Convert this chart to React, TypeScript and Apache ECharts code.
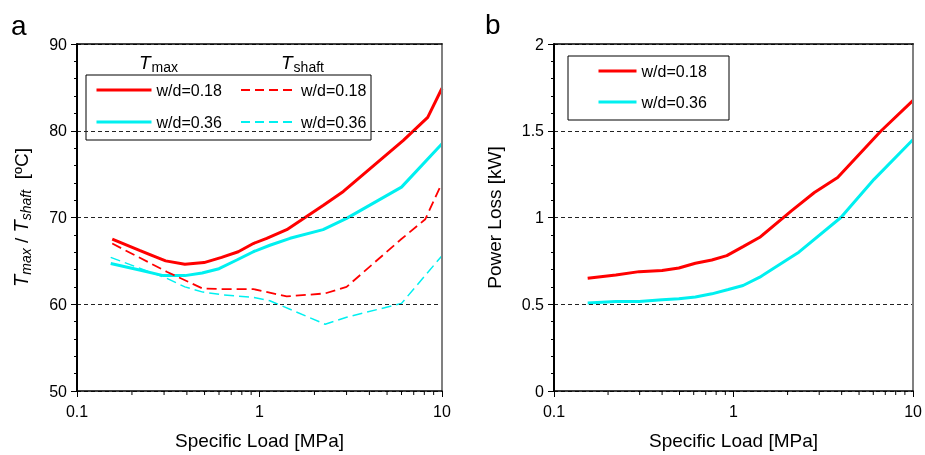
import React, { useEffect, useRef } from "react";
import * as echarts from "echarts";

// ---- data ----
const tmax018X = [0.156, 0.22, 0.306, 0.39, 0.497, 0.62, 0.765, 0.925, 1.095, 1.41, 2.24, 2.88, 6.14, 8.35, 10];
const tmax018Y = [67.5, 66.2, 65.0, 64.6, 64.8, 65.4, 66.05, 67.0, 67.6, 68.6, 71.4, 73.0, 78.9, 81.55, 84.9];
const tmax036X = [0.153, 0.22, 0.297, 0.39, 0.485, 0.6, 0.751, 0.925, 1.14, 1.47, 2.23, 3.0, 6.0, 10];
const tmax036Y = [64.7, 63.95, 63.3, 63.3, 63.6, 64.1, 65.1, 66.05, 66.8, 67.6, 68.6, 69.9, 73.5, 78.5];
const tshaft018X = [0.156, 0.31, 0.49, 0.62, 0.925, 1.41, 2.29, 3.0, 5.9, 8.1, 10];
const tshaft018Y = [67.0, 63.75, 61.8, 61.75, 61.75, 60.9, 61.25, 62.0, 67.4, 69.8, 74.0];
const tshaft036X = [0.153, 0.31, 0.39, 0.49, 0.62, 0.925, 1.14, 2.29, 3.0, 6.0, 10];
const tshaft036Y = [65.4, 63.0, 62.0, 61.4, 61.1, 60.8, 60.4, 57.7, 58.5, 60.1, 65.6];
const pl018X = [0.154, 0.221, 0.298, 0.4, 0.496, 0.613, 0.757, 0.917, 1.13, 1.4, 2.1, 2.82, 3.8, 6.6, 10];
const pl018Y = [0.65, 0.669, 0.688, 0.694, 0.709, 0.736, 0.755, 0.78, 0.832, 0.886, 1.038, 1.144, 1.23, 1.497, 1.675];
const pl036X = [0.154, 0.221, 0.298, 0.4, 0.496, 0.613, 0.757, 0.935, 1.13, 1.4, 2.31, 3.96, 6.06, 10];
const pl036Y = [0.507, 0.516, 0.516, 0.526, 0.532, 0.542, 0.56, 0.585, 0.608, 0.656, 0.8, 1.0, 1.22, 1.45];
const minorXTicks = [0.2, 0.3, 0.4, 0.5, 0.6, 0.7, 0.8, 0.9, 2, 3, 4, 5, 6, 7, 8, 9];
const legendLabels = ["w/d=0.18", "w/d=0.36"];

const RED = "#ff0000";
const CYAN = "#00f0f0";
const FONT = "Liberation Sans, Arial, sans-serif";

const zip = (xs: number[], ys: number[]) => xs.map((x, i) => [x, ys[i]]);

export default function App() {
  const ref = useRef<HTMLDivElement>(null);
  useEffect(() => {
    if (!ref.current) return;
    const chart = echarts.init(ref.current, undefined, { renderer: "svg" });

    const xBottom = (gridIndex: number) => ({
      type: "log",
      logBase: 10,
      gridIndex,
      min: 0.1,
      max: 10,
      position: "bottom",
      z: 4,
      name: "Specific Load [MPa]",
      nameLocation: "middle",
      nameGap: 40,
      nameTextStyle: { fontSize: 19, color: "#000", fontFamily: FONT },
      axisLine: { onZero: false, lineStyle: { color: "#000", width: 1.5 } },
      axisTick: { show: true, length: 6, inside: false, lineStyle: { color: "#000" } },
      axisLabel: {
        fontSize: 16,
        color: "#000",
        fontFamily: FONT,
        margin: 12,
        formatter: (v: number) => (v < 1 ? String(Number(v.toFixed(1))) : String(Math.round(v))),
      },
      splitLine: { show: false },
    });
    const xTop = (gridIndex: number) => ({
      type: "value",
      gridIndex,
      position: "top",
      z: 4,
      min: 0,
      max: 1,
      axisLine: { show: true, onZero: false, lineStyle: { color: "#000", width: 1.5 } },
      axisTick: { show: false },
      axisLabel: { show: false },
      splitLine: { show: false },
    });
    const yRight = (gridIndex: number) => ({
      type: "value",
      gridIndex,
      position: "right",
      z: 4,
      min: 0,
      max: 1,
      axisLine: { show: true, onZero: false, lineStyle: { color: "#808080", width: 2 } },
      axisTick: { show: false },
      axisLabel: { show: false },
      splitLine: { show: false },
    });
    const yLeftCommon = {
      type: "value",
      nameLocation: "middle",
      nameRotate: 90,
      z: 4,
      axisLine: { show: true, onZero: false, lineStyle: { color: "#000", width: 2 } },
      axisTick: { show: true, length: 6, lineStyle: { color: "#000" } },
      minorTick: { show: true, splitNumber: 5, length: 3, lineStyle: { color: "#000" } },
      axisLabel: { fontSize: 16, color: "#000", fontFamily: FONT, margin: 10 },
      splitLine: { show: true, lineStyle: { color: "#222", type: [4, 3], width: 1 } },
    };

    const minorTickSeries = (xAxisIndex: number, yAxisIndex: number, yMin: number) => ({
      type: "custom",
      xAxisIndex,
      yAxisIndex,
      silent: true,
      z: 5,
      data: minorXTicks.map((v) => [v, yMin]),
      renderItem: (params: any, api: any) => {
        const p = api.coord([api.value(0), api.value(1)]);
        return {
          type: "line",
          shape: { x1: p[0], y1: p[1], x2: p[0], y2: p[1] + 4 },
          style: { stroke: "#000", lineWidth: 1 },
        };
      },
    });

    const lineSeries = (name: string, data: number[][], color: string, width: number, dashed: boolean, xi: number, yi: number) => ({
      type: "line",
      name,
      data,
      xAxisIndex: xi,
      yAxisIndex: yi,
      symbol: "none",
      showSymbol: false,
      z: 3,
      lineStyle: { color, width, type: dashed ? [10, 5] : "solid" },
      itemStyle: { color },
    });

    const legendBase = {
      orient: "vertical",
      padding: 0,
      itemHeight: 14,
      itemStyle: { opacity: 0 },
      textStyle: { fontSize: 16, color: "#000", fontFamily: FONT },
      formatter: (n: string) => n.split(" ")[1],
      selectedMode: false,
      z: 10,
    };

    const option: any = {
      animation: false,
      textStyle: { fontFamily: FONT },
      grid: [
        { left: 77, top: 44, width: 365, height: 347 },
        { left: 554, top: 44, width: 362, height: 348 },
      ],
      xAxis: [xBottom(0), xTop(0), xBottom(1), xTop(1)],
      yAxis: [
        {
          ...yLeftCommon,
          gridIndex: 0,
          min: 50,
          max: 90,
          interval: 10,
          nameGap: 44,
          name: "{t|T}{s|max}{n| / }{t|T}{s|shaft}{n|  [ºC]}",
          nameTextStyle: {
            color: "#000",
            fontFamily: FONT,
            rich: {
              t: { fontSize: 20, fontStyle: "italic", fontFamily: FONT, color: "#000" },
              s: { fontSize: 14, fontStyle: "italic", fontFamily: FONT, color: "#000", padding: [10, 0, 0, 0] },
              n: { fontSize: 19, fontFamily: FONT, color: "#000" },
            },
          },
        },
        yRight(0),
        {
          ...yLeftCommon,
          gridIndex: 1,
          min: 0,
          max: 2,
          interval: 0.5,
          nameGap: 50,
          name: "Power Loss [kW]",
          nameTextStyle: { fontSize: 19, color: "#000", fontFamily: FONT },
        },
        yRight(1),
      ],
      legend: [
        { ...legendBase, left: 95, top: 82, itemWidth: 55, itemGap: 16, lineStyle: { width: 3 }, data: ["Tmax w/d=0.18", "Tmax w/d=0.36"] },
        { ...legendBase, left: 240, top: 82, itemWidth: 55, itemGap: 16, lineStyle: { width: 2, type: [9, 5] }, data: ["Tshaft w/d=0.18", "Tshaft w/d=0.36"] },
        { ...legendBase, left: 597, top: 63, itemWidth: 38, itemGap: 15, lineStyle: { width: 3 }, data: ["PL w/d=0.18", "PL w/d=0.36"] },
      ],
      graphic: [
        { type: "rect", z: 4, shape: { x: 86, y: 75, width: 285, height: 65 }, style: { fill: "#fff", stroke: "#000", lineWidth: 1 } },
        { type: "rect", z: 4, shape: { x: 568, y: 56, width: 161, height: 64 }, style: { fill: "#fff", stroke: "#000", lineWidth: 1 } },
        {
          type: "text", z: 5, x: 139, y: 51,
          style: {
            text: "{t|T}{s|max}",
            rich: {
              t: { fontSize: 19, fontStyle: "italic", fontFamily: FONT, fill: "#000" },
              s: { fontSize: 14, fontFamily: FONT, fill: "#000", padding: [9, 0, 0, 1] },
            },
          },
        },
        {
          type: "text", z: 5, x: 281, y: 51,
          style: {
            text: "{t|T}{s|shaft}",
            rich: {
              t: { fontSize: 19, fontStyle: "italic", fontFamily: FONT, fill: "#000" },
              s: { fontSize: 14, fontFamily: FONT, fill: "#000", padding: [9, 0, 0, 1] },
            },
          },
        },
        { type: "text", z: 5, x: 11, y: 11, style: { text: "a", fontSize: 28, fontFamily: FONT, fill: "#000" } },
        { type: "text", z: 5, x: 485, y: 10, style: { text: "b", fontSize: 28, fontFamily: FONT, fill: "#000" } },
      ],
      series: [
        lineSeries("Tmax " + legendLabels[0], zip(tmax018X, tmax018Y), RED, 3, false, 0, 0),
        lineSeries("Tmax " + legendLabels[1], zip(tmax036X, tmax036Y), CYAN, 3, false, 0, 0),
        lineSeries("Tshaft " + legendLabels[0], zip(tshaft018X, tshaft018Y), RED, 1.8, true, 0, 0),
        lineSeries("Tshaft " + legendLabels[1], zip(tshaft036X, tshaft036Y), CYAN, 1.5, true, 0, 0),
        lineSeries("PL " + legendLabels[0], zip(pl018X, pl018Y), RED, 3, false, 2, 2),
        lineSeries("PL " + legendLabels[1], zip(pl036X, pl036Y), CYAN, 3, false, 2, 2),
        minorTickSeries(0, 0, 50),
        minorTickSeries(2, 2, 0),
      ],
    };
    chart.setOption(option);
    return () => chart.dispose();
  }, []);
  return <div ref={ref} style={{ position: "fixed", left: 0, top: 0, width: 925, height: 455 }} />;
}
